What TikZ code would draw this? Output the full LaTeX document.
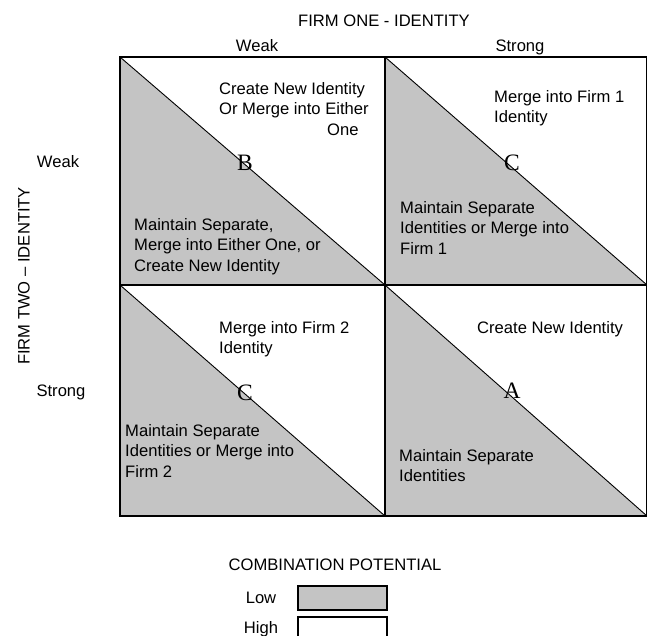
\documentclass[tikz,border=0pt]{standalone}
\usepackage{fontspec}
\setmainfont{Liberation Sans}
\newfontfamily\letterfont{Liberation Serif}
\definecolor{lowfill}{RGB}{196,196,196}
\begin{document}
\begin{tikzpicture}[x=1pt,y=-1pt,
  gridline/.style={line width=1.8pt},
  diagline/.style={line width=0.9pt},
  % multi-line notes are placed by the baseline of their last line
  cellnote/.style={font=\fontsize{16.6}{20.7}\selectfont, align=left, anchor=base west, inner sep=0pt},
  axislabel/.style={font=\fontsize{16.6}{20}\selectfont, inner sep=0pt, anchor=base},
  grade/.style={font=\letterfont\fontsize{23.5}{25}\selectfont, inner sep=0pt},
  legendbox/.style={draw, line width=1.1pt}]
\useasboundingbox (0,0) rectangle (647,635);
\clip (0,0) rectangle (647,635);

% shaded lower-left halves and their diagonals
\foreach \xa/\xb/\ya/\yb in {120/385/57/285, 385/647/57/285, 120/385/285/516, 385/647/285/516}{
  \fill[lowfill] (\xa,\ya) -- (\xb,\yb) -- (\xa,\yb) -- cycle;
  \draw[diagline] (\xa,\ya) -- (\xb,\yb);
}

% matrix frame
\draw[gridline] (120,57) rectangle (647,516);
\draw[gridline] (385,57) -- (385,516);
\draw[gridline] (120,285) -- (647,285);

% axis titles
\node[axislabel] (firmone) at (384,26) {FIRM ONE - IDENTITY};
\node[axislabel] (oneweak) at (257,51) {Weak};
\node[axislabel] (onestrong) at (520,51) {Strong};
\node[axislabel] (twoweak) at (58,167) {Weak};
\node[axislabel] (twostrong) at (61,396) {Strong};
\node[axislabel, anchor=center, rotate=90] (firmtwo) at (24,276) {FIRM TWO – IDENTITY};

% cell grades
\node[grade] (gradeB) at (245,163) {B};
\node[grade] (gradeC1) at (512,163) {C};
\node[grade] (gradeC2) at (245,393) {C};
\node[grade] (gradeA) at (512,391) {A};

% cell notes
\node[cellnote] (tlhigh) at (219,135.4) {Create New Identity\\Or Merge into Either\\\hspace*{108pt}One};
\node[cellnote] (tllow) at (134,271.4) {Maintain Separate,\\Merge into Either One, or\\Create New Identity};
\node[cellnote] (trhigh) at (494,122.7) {Merge into Firm 1\\Identity};
\node[cellnote] (trlow) at (400,254.4) {Maintain Separate\\Identities or Merge into\\Firm 1};
\node[cellnote] (blhigh) at (219,353.7) {Merge into Firm 2\\Identity};
\node[cellnote] (bllow) at (125,477.4) {Maintain Separate\\Identities or Merge into\\Firm 2};
\node[cellnote] (brhigh) at (477,333) {Create New Identity};
\node[cellnote] (brlow) at (399,481.7) {Maintain Separate\\Identities};

% legend
\node[axislabel] (legendtitle) at (335,570) {COMBINATION POTENTIAL};
\node[axislabel] (lowlabel) at (261,603) {Low};
\node[axislabel] (highlabel) at (261,633) {High};
\draw[legendbox, fill=lowfill] (298,586) rectangle (387,610);
\draw[legendbox, fill=white] (298,617) rectangle (387,650);
\end{tikzpicture}
\end{document}
